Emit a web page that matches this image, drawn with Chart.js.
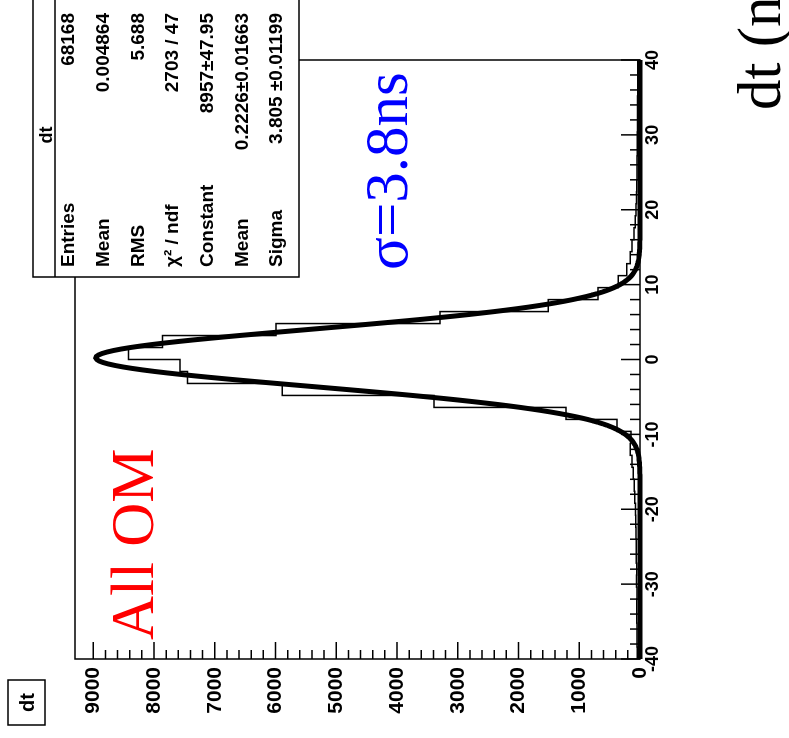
<!DOCTYPE html>
<html>
<head>
<meta charset="utf-8">
<script src="https://cdn.jsdelivr.net/npm/chart.js@4.4.1/dist/chart.umd.min.js"></script>
<style>
  html, body { margin: 0; padding: 0; background: #fff; }
  body { width: 789px; height: 738px; overflow: hidden; position: relative; }
  /* the whole pad is laid out upright and turned a quarter turn counter-clockwise */
  #pad {
    position: absolute; left: 0; top: 0;
    width: 738px; height: 789px;
    transform-origin: 0 0;
    transform: translate(0, 738px) rotate(-90deg);
  }
  canvas { display: block; }
</style>
</head>
<body>
<div id="pad"><canvas id="c" width="738" height="789"></canvas></div>
<script>
// dt histogram, 50 bins of 1.6 ns between -40 and 40
const binCenters = [
  -39.2, -37.6, -36.0, -34.4, -32.8, -31.2, -29.6, -28.0, -26.4, -24.8,
  -23.2, -21.6, -20.0, -18.4, -16.8, -15.2, -13.6, -12.0, -10.4, -8.8,
  -7.2, -5.6, -4.0, -2.4, -0.8, 0.8, 2.4, 4.0, 5.6, 7.2,
  8.8, 10.4, 12.0, 13.6, 15.2, 16.8, 18.4, 20.0, 21.6, 23.2,
  24.8, 26.4, 28.0, 29.6, 31.2, 32.8, 34.4, 36.0, 37.6, 39.2
];
const binCounts = [
  45, 50, 48, 52, 55, 50, 58, 55, 60, 62,
  65, 70, 75, 85, 95, 110, 130, 160, 150, 380,
  1220, 3390, 5890, 7450, 7570, 8420, 7860, 5990, 3290, 1510,
  690, 360, 220, 160, 130, 100, 80, 65, 58, 52,
  50, 48, 45, 45, 42, 40, 40, 38, 38, 35
];

// Gaussian fit parameters (as printed in the statistics box)
const fitConstant = 8957;
const fitMean = 0.2226;
const fitSigma = 3.805;

// statistics box rows
const statLabels = ['Entries', 'Mean', 'RMS', '\u03C7\u00B2 / ndf', 'Constant', 'Mean', 'Sigma'];
const statValues = ['68168', '0.004864', '5.688', '2703 / 47', '8957\u00B147.95', '0.2226\u00B10.01663', '3.805 \u00B10.01199'];

// axis ranges and tick steps
const dtRange = [-40, 40];
const countRange = [0, 9300];
const dtMajor = 10, dtMinor = 2;
const countMajor = 1000, countMinor = 200;

// build the step outline of the histogram from its bin centers
const half = (binCenters[1] - binCenters[0]) / 2;
const histPoints = [{ x: binCenters[0] - half, y: 0 }];
binCenters.forEach((c, i) => histPoints.push({ x: c - half, y: binCounts[i] }));
histPoints.push({ x: binCenters[binCenters.length - 1] + half, y: binCounts[binCounts.length - 1] });
histPoints.push({ x: binCenters[binCenters.length - 1] + half, y: 0 });

// fitted gaussian sampled over the axis range
const fitPoints = [];
for (let x = dtRange[0]; x <= dtRange[1] + 1e-9; x += 0.2) {
  const d = (x - fitMean) / fitSigma;
  fitPoints.push({ x: x, y: fitConstant * Math.exp(-0.5 * d * d) });
}

const sans = 'Liberation Sans, Arial, sans-serif';
const serif = 'Liberation Serif, Times New Roman, serif';

// inside tick marks and frame, drawn with the chart's own scales
const rootFrame = {
  id: 'rootFrame',
  afterDatasetsDraw(chart) {
    const { ctx, chartArea: a, scales } = chart;
    ctx.save();
    ctx.strokeStyle = '#000';
    ctx.lineWidth = 1.5;
    ctx.strokeRect(a.left, a.top, a.right - a.left, a.bottom - a.top);
    ctx.beginPath();
    scales.x.ticks.forEach(t => {
      if (Math.abs(t.value / dtMinor - Math.round(t.value / dtMinor)) > 1e-6) return;
      const px = scales.x.getPixelForValue(t.value);
      const len = Math.abs(t.value % dtMajor) < 1e-6 ? 19 : 10;
      ctx.moveTo(px, a.bottom);
      ctx.lineTo(px, a.bottom - len);
    });
    scales.y.ticks.forEach(t => {
      if (t.value % countMinor !== 0) return;
      const py = scales.y.getPixelForValue(t.value);
      const len = t.value % countMajor === 0 ? 17 : 9;
      ctx.moveTo(a.left, py);
      ctx.lineTo(a.left + len, py);
    });
    ctx.stroke();
    ctx.restore();
  }
};

// text boxes and annotations of the pad
const padText = {
  id: 'padText',
  afterDraw(chart) {
    const ctx = chart.ctx;
    ctx.save();
    // statistics box
    const bx = 461, by = 33, bw = 290, bh = 266;
    ctx.fillStyle = '#fff';
    ctx.fillRect(bx, by, bw, bh);
    ctx.strokeStyle = '#000';
    ctx.lineWidth = 1.5;
    ctx.strokeRect(bx, by, bw, bh);
    ctx.beginPath();
    ctx.moveTo(bx, 55); ctx.lineTo(bx + bw, 55);
    ctx.stroke();
    ctx.fillStyle = '#000';
    ctx.font = 'bold 18px ' + sans;
    ctx.textBaseline = 'alphabetic';
    ctx.textAlign = 'center';
    ctx.fillText('dt', 603, 52);
    ctx.font = 'bold 19px ' + sans;
    const rowY = [74, 109, 144, 178, 213, 248, 282];
    statLabels.forEach((s, i) => {
      ctx.textAlign = 'left';
      ctx.fillText(s, 471, rowY[i]);
      ctx.textAlign = 'right';
      ctx.fillText(statValues[i], 725, rowY[i]);
    });
    // pad title box
    ctx.lineWidth = 1.5;
    ctx.strokeRect(13, 8, 45, 37);
    ctx.textAlign = 'center';
    ctx.font = 'bold 20px ' + sans;
    ctx.fillText('dt', 35.5, 34);
    // annotations
    ctx.textAlign = 'left';
    ctx.font = '61px ' + serif;
    ctx.fillStyle = '#ff0000';
    ctx.fillText('All OM', 98, 153);
    ctx.fillStyle = '#0000ff';
    ctx.fillText('\u03C3=3.8ns', 468, 407);
    ctx.fillStyle = '#000';
    ctx.fillText('dt (ns)', 628, 780);
    ctx.restore();
  }
};

new Chart(document.getElementById('c'), {
  type: 'line',
  data: {
    datasets: [
      {
        label: 'dt',
        data: histPoints,
        stepped: 'before',
        borderColor: '#000',
        borderWidth: 1.5,
        pointRadius: 0,
        fill: false,
        order: 2
      },
      {
        label: 'gaus',
        data: fitPoints,
        borderColor: '#000',
        borderWidth: 5,
        pointRadius: 0,
        tension: 0,
        fill: false,
        clip: 6,
        order: 1
      }
    ]
  },
  options: {
    responsive: false,
    animation: false,
    devicePixelRatio: 1,
    layout: { padding: { left: 0, top: 75, right: 60, bottom: 0 } },
    plugins: { legend: { display: false }, tooltip: { enabled: false } },
    scales: {
      x: {
        type: 'linear',
        min: dtRange[0], max: dtRange[1],
        grid: { display: false, drawTicks: false },
        border: { display: false },
        ticks: {
          stepSize: dtMinor, autoSkip: false, maxRotation: 0, padding: 2,
          color: '#000', font: { family: sans, size: 18, weight: 'bold' },
          callback: v => (Math.abs(v % dtMajor) < 1e-6 ? String(v) : '')
        },
        afterFit(scale) { scale.height = 149; }
      },
      y: {
        type: 'linear',
        min: countRange[0], max: countRange[1],
        grid: { display: false, drawTicks: false },
        border: { display: false },
        ticks: {
          stepSize: countMinor, autoSkip: false, padding: 8,
          color: '#000', font: { family: sans, size: 21, weight: 'bold' },
          callback: v => (v % countMajor === 0 ? String(v) : '')
        },
        afterFit(scale) { scale.width = 79; }
      }
    }
  },
  plugins: [rootFrame, padText]
});
</script>
</body>
</html>
